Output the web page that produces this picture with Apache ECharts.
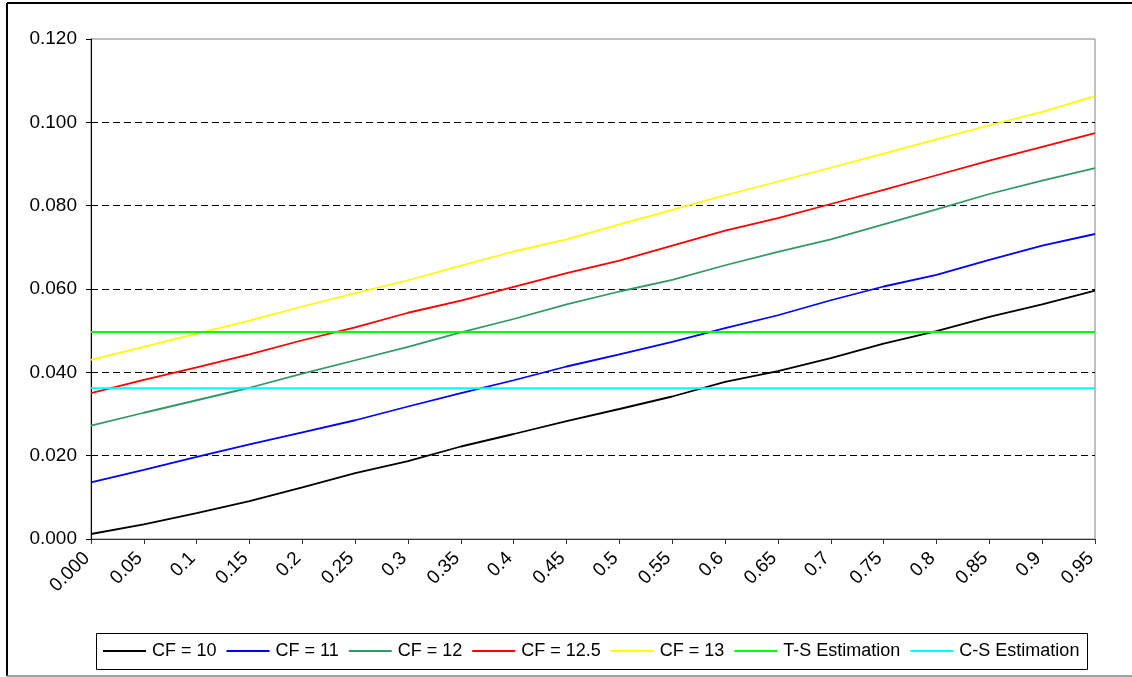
<!DOCTYPE html>
<html>
<head>
<meta charset="utf-8">
<script src="https://cdn.jsdelivr.net/npm/echarts@6/dist/echarts.min.js"></script>
<style>
  html, body { margin: 0; padding: 0; background: #ffffff; }
  #chart { width: 1132px; height: 677px; }
</style>
</head>
<body>
<div id="chart"></div>
<script>
// Category axis labels
const categories = ['0.000', '0.05', '0.1', '0.15', '0.2', '0.25', '0.3', '0.35', '0.4', '0.45',
                    '0.5', '0.55', '0.6', '0.65', '0.7', '0.75', '0.8', '0.85', '0.9', '0.95'];

// Curves for each CF value
const cf10  = [0.0012, 0.0035, 0.0062, 0.0091, 0.0124, 0.0158, 0.0187, 0.0222, 0.0252, 0.0283,
               0.0312, 0.0342, 0.0377, 0.0403, 0.0434, 0.0469, 0.0499, 0.0533, 0.0563, 0.0596];
const cf11  = [0.0136, 0.0166, 0.0197, 0.0227, 0.0256, 0.0285, 0.0318, 0.0350, 0.0381, 0.0414,
               0.0443, 0.0473, 0.0506, 0.0537, 0.0573, 0.0606, 0.0634, 0.0670, 0.0704, 0.0732];
const cf12  = [0.0272, 0.0303, 0.0333, 0.0363, 0.0397, 0.0429, 0.0461, 0.0496, 0.0528, 0.0563,
               0.0594, 0.0622, 0.0657, 0.0689, 0.0719, 0.0755, 0.0791, 0.0828, 0.0860, 0.0890];
const cf125 = [0.0350, 0.0382, 0.0412, 0.0443, 0.0477, 0.0508, 0.0543, 0.0572, 0.0605, 0.0638,
               0.0668, 0.0704, 0.0740, 0.0770, 0.0804, 0.0838, 0.0873, 0.0908, 0.0941, 0.0974];
const cf13  = [0.0430, 0.0461, 0.0493, 0.0524, 0.0558, 0.0590, 0.0621, 0.0656, 0.0690, 0.0719,
               0.0755, 0.0790, 0.0825, 0.0858, 0.0891, 0.0925, 0.0959, 0.0993, 0.1025, 0.1063];

// Constant reference estimates
const tsEstimation = 0.0497;
const csEstimation = 0.0362;

const seriesNames  = ['CF = 10', 'CF = 11', 'CF = 12', 'CF = 12.5', 'CF = 13', 'T-S Estimation', 'C-S Estimation'];
const seriesColors = ['#000000', '#0000ff', '#339966', '#ff0000', '#ffff00', '#00ff00', '#00ffff'];
const seriesData   = [cf10, cf11, cf12, cf125, cf13,
                      categories.map(() => tsEstimation),
                      categories.map(() => csEstimation)];

const FONT = '"Liberation Sans", Arial, sans-serif';

const chart = echarts.init(document.getElementById('chart'), null, { renderer: 'canvas' });

chart.setOption({
  backgroundColor: '#ffffff',
  animation: false,
  textStyle: { fontFamily: FONT, color: '#000' },
  grid: {
    left: 91, right: 37, top: 39, bottom: 138,
    show: true, borderColor: '#808080', borderWidth: 1, backgroundColor: 'transparent'
  },
  xAxis: {
    type: 'category',
    data: categories,
    boundaryGap: false,
    axisLine: { lineStyle: { color: '#333333', width: 1 } },
    axisTick: { show: true, length: 5, lineStyle: { color: '#333333' } },
    axisLabel: {
      rotate: 45, interval: 0, margin: 12,
      padding: [0, 6, 0, 0],
      fontSize: 19, color: '#000', fontFamily: FONT
    },
    splitLine: { show: false }
  },
  yAxis: {
    type: 'value',
    min: 0, max: 0.12, interval: 0.02,
    axisLine: { show: true, lineStyle: { color: '#000', width: 1 } },
    axisTick: { show: true, length: 5, lineStyle: { color: '#000' } },
    axisLabel: {
      margin: 14, fontSize: 19, color: '#000', fontFamily: FONT,
      formatter: v => v.toFixed(3)
    },
    splitLine: {
      show: true,
      // dashed guides at inner ticks only; the frame covers 0 and the top
      lineStyle: {
        color: ['rgba(0,0,0,0)', '#000', '#000', '#000', '#000', '#000', 'rgba(0,0,0,0)'],
        type: [7, 4], width: 1
      }
    }
  },
  legend: {
    left: 103, top: 642,
    orient: 'horizontal',
    itemWidth: 43, itemHeight: 14, itemGap: 10,
    padding: 0,
    textStyle: { fontSize: 18, color: '#000', fontFamily: FONT, padding: [0, 0, 0, 1] },
    data: seriesNames.map(n => ({ name: n, icon: 'path://M0,6.5 L43,6.5 L43,8.5 L0,8.5 Z' }))
  },
  graphic: [
    // outer frame
    { type: 'line', shape: { x1: 7, y1: 3, x2: 1132, y2: 3 }, style: { stroke: '#000', lineWidth: 2 } },
    { type: 'line', shape: { x1: 7, y1: 3, x2: 7, y2: 676 }, style: { stroke: '#000', lineWidth: 2 } },
    { type: 'line', shape: { x1: 7, y1: 676, x2: 1132, y2: 676 }, style: { stroke: '#808080', lineWidth: 1.5 } },
    // legend frame
    { type: 'rect', shape: { x: 96.5, y: 633.5, width: 991, height: 36 },
      style: { fill: 'transparent', stroke: '#000', lineWidth: 1 }, z: 10 }
  ],
  series: seriesNames.map((name, i) => ({
    name: name,
    type: 'line',
    data: seriesData[i],
    symbol: 'none',
    smooth: false,
    lineStyle: { color: seriesColors[i], width: i >= 5 ? 2 : 1.8 },
    itemStyle: { color: seriesColors[i] },
    z: 3
  }))
});
</script>
</body>
</html>
